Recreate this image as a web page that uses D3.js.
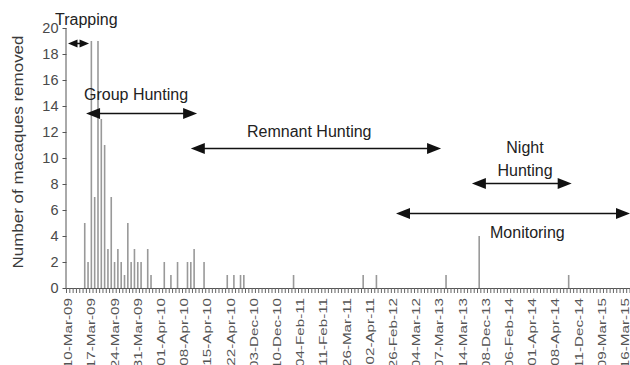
<!DOCTYPE html>
<html><head><meta charset="utf-8">
<script src="https://cdn.jsdelivr.net/npm/d3@7"></script>
<style>body{margin:0;background:#fff}svg{display:block}</style>
</head><body>
<svg id="c" width="630" height="365"></svg>
<script>
// ---- data ----
const nDays = 170; // number of field-day categories on the axis
const tickLabels = ["10-Mar-09","17-Mar-09","24-Mar-09","31-Mar-09","01-Apr-10","08-Apr-10","15-Apr-10","22-Apr-10","03-Dec-10","10-Dec-10","04-Feb-11","11-Feb-11","26-Mar-11","02-Apr-11","26-Feb-12","04-Mar-12","07-Mar-13","14-Mar-13","08-Dec-13","06-Feb-14","01-Apr-14","08-Apr-14","11-Dec-14","09-Mar-15","16-Mar-15"];
const barDay   = [5,6,7,8,9,10,11,12,13,14,15,16,17,18,19,20,21,22,24,25,29,31,33,36,37,38,41,48,50,52,53,68,89,93,114,124,151];
const barValue = [5,2,19,7,19,13,11,3,7,2,3,2,1,5,2,3,2,2,3,1,2,1,2,2,2,3,2,1,1,1,1,1,1,1,1,4,1];
const yTicks = [0,2,4,6,8,10,12,14,16,18,20];
const phaseNames = ["Trapping","Group Hunting","Remnant Hunting","Night Hunting","Monitoring"];
const phaseStart = [0.45, 5.9, 37.5, 122.3, 99.4];
const phaseEnd   = [6.8, 39.4, 113, 152.4, 170];
const phaseLevel = [18.85, 13.46, 10.77, 8.08, 5.77];

// ---- layout ----
const svg = d3.select("#c");
const x0 = 66.5, x1 = 630, yBase = 288, yTop = 28;
const xb = d3.scaleBand().domain(d3.range(nDays)).range([x0, x1]).padding(0);
const xi = d3.scaleLinear().domain([0, nDays]).range([x0, x1]);
const y = d3.scaleLinear().domain([0, 20]).range([yBase, yTop]);
const bw = xb.bandwidth();
const axisCol = "#555", textCol = "#4a4a4a";

// bars
svg.append("g").selectAll("rect").data(barDay).join("rect")
  .attr("x", (d) => xb(d) + bw / 2 - 0.8)
  .attr("width", 1.6)
  .attr("y", (d, i) => y(barValue[i]))
  .attr("height", (d, i) => yBase - y(barValue[i]))
  .attr("fill", "#999");

// y axis
const yAxis = svg.append("g").attr("transform", `translate(${x0},0)`)
  .call(d3.axisLeft(y).tickValues(yTicks).tickSize(4).tickPadding(4).tickFormat(d3.format("d")));
yAxis.select(".domain").attr("stroke", axisCol).attr("d", `M-0.5,${yTop}V${yBase}`);
yAxis.selectAll(".tick line").attr("stroke", axisCol);
yAxis.selectAll("text").attr("fill", textCol).style("font-family", "Liberation Sans, Arial, sans-serif").style("font-size", "14.5px");

// x axis line & ticks
const gx = svg.append("g");
gx.append("line").attr("x1", x0 - 0.5).attr("x2", x1).attr("y1", yBase + 0.5).attr("y2", yBase + 0.5).attr("stroke", axisCol);
gx.selectAll("line.t").data(d3.range(nDays + 1)).join("line").attr("class", "t")
  .attr("x1", (d) => xi(d)).attr("x2", (d) => xi(d))
  .attr("y1", yBase).attr("y2", yBase + 5).attr("stroke", "#666").attr("stroke-width", 1);
gx.selectAll("text").data(tickLabels).join("text")
  .attr("transform", (d, i) => `translate(${xb(i * 7) + bw / 2 + 4},${yBase + 10}) rotate(-90) scale(1.45,1)`)
  .attr("text-anchor", "end")
  .attr("fill", "#555")
  .style("font-family", "Liberation Sans, Arial, sans-serif").style("font-size", "10.5px")
  .text((d) => d);

// y title
svg.append("text")
  .attr("transform", `translate(23,152) rotate(-90)`)
  .attr("text-anchor", "middle").attr("fill", "#3a3a3a")
  .attr("textLength", 233).attr("lengthAdjust", "spacingAndGlyphs")
  .style("font-family", "Liberation Sans, Arial, sans-serif").style("font-size", "14px")
  .text("Number of macaques removed");

// phase arrows
function arrow(xa, xbp, yy, hl, hw) {
  const g = svg.append("g");
  g.append("line").attr("x1", xa + hl - 1).attr("x2", xbp - hl + 1).attr("y1", yy).attr("y2", yy)
    .attr("stroke", "#111").attr("stroke-width", 1.5);
  g.append("path").attr("d", `M${xa},${yy}L${xa + hl},${yy - hw}L${xa + hl},${yy + hw}Z`).attr("fill", "#111");
  g.append("path").attr("d", `M${xbp},${yy}L${xbp - hl},${yy - hw}L${xbp - hl},${yy + hw}Z`).attr("fill", "#111");
}
phaseNames.forEach((n, i) => {
  const small = i === 0;
  arrow(xi(phaseStart[i]), xi(phaseEnd[i]), Math.round(y(phaseLevel[i])) + 0.5, small ? 9.5 : 14, small ? 4 : 5.5);
});

// phase labels (layout positions)
const labelPos = [
  {lines: ["Trapping"], x: 55, y: 25, anchor: "start"},
  {lines: ["Group Hunting"], x: 84, y: 100, anchor: "start"},
  {lines: ["Remnant Hunting"], x: 247, y: 137, anchor: "start"},
  {lines: ["Night", "Hunting"], x: 525, y: 153, anchor: "middle"},
  {lines: ["Monitoring"], x: 490, y: 238, anchor: "start"}
];
labelPos.forEach((p) => {
  p.lines.forEach((t, k) => {
    svg.append("text").attr("x", p.x).attr("y", p.y + k * 23).attr("text-anchor", p.anchor)
      .attr("fill", "#222")
      .style("font-family", "Liberation Sans, Arial, sans-serif").style("font-size", "16px")
      .text(t);
  });
});
</script>
</body></html>
